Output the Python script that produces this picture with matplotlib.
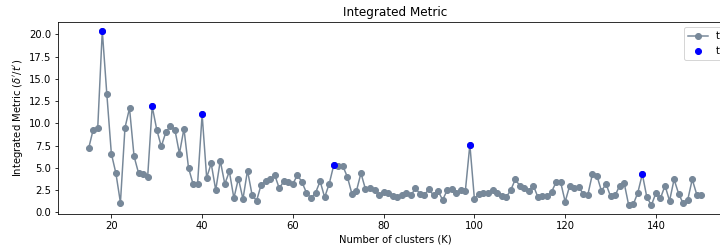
import numpy as np
import matplotlib.pyplot as plt

# number of clusters tried
k_values = list(range(15, 151))

# integrated metric for each K
metric = [
    7.2, 9.3, 9.5, 20.4, 13.3, 6.6, 4.4, 1.1, 9.5, 11.7,   # 15-24
    6.3, 4.4, 4.3, 4.0, 11.9, 9.3, 7.4, 9.0, 9.7, 9.3,     # 25-34
    6.6, 9.4, 5.0, 3.2, 3.2, 11.0, 3.9, 5.5, 2.5, 5.8,     # 35-44
    3.2, 4.6, 1.6, 3.8, 1.5, 4.7, 2.0, 1.3, 3.1, 3.5,      # 45-54
    3.7, 4.2, 2.7, 3.5, 3.4, 3.2, 4.2, 3.4, 2.2, 1.6,      # 55-64
    2.2, 3.5, 1.7, 3.2, 5.3, 5.2, 5.2, 4.0, 2.1, 2.4,      # 65-74
    4.4, 2.6, 2.7, 2.5, 2.0, 2.3, 2.2, 1.8, 1.7, 1.9,      # 75-84
    2.2, 1.9, 2.7, 2.1, 2.0, 2.6, 1.9, 2.4, 1.4, 2.5,      # 85-94
    2.6, 2.2, 2.5, 2.4, 7.6, 1.5, 2.1, 2.2, 2.2, 2.5,      # 95-104
    2.2, 1.8, 1.7, 2.5, 3.7, 3.0, 2.7, 2.4, 3.0, 1.7,      # 105-114
    1.8, 1.8, 2.3, 3.4, 3.4, 1.2, 3.0, 2.7, 2.8, 2.1,      # 115-124
    2.0, 4.3, 4.1, 2.4, 3.2, 1.8, 1.9, 3.0, 3.3, 0.8,      # 125-134
    0.9, 2.2, 4.3, 1.7, 0.8, 2.2, 1.6, 3.0, 1.3, 3.7,      # 135-144
    2.1, 1.0, 1.4, 3.7, 2.0, 2.0,                          # 145-150
]

# local peaks highlighted in blue
peak_k = [18, 29, 40, 69, 99, 137]
peak_metric = [metric[k_values.index(k)] for k in peak_k]

fig = plt.figure(figsize=(10, 250 / 72), dpi=72)
ax = fig.add_axes([0.0806, 0.144, 0.936, 0.768])

ax.plot(k_values, metric, 'o-', color='lightslategray', label="t’")
ax.plot(peak_k, peak_metric, 'o', color='blue', label="t’")

ax.set_title('Integrated Metric')
ax.set_xlabel('Number of clusters (K)')
ax.set_ylabel(r"Integrated Metric $(\delta'/t')$")
ax.set_yticks(np.arange(0, 20.1, 2.5))
ax.legend(loc='upper right')

fig.savefig('out.png', dpi=72)
